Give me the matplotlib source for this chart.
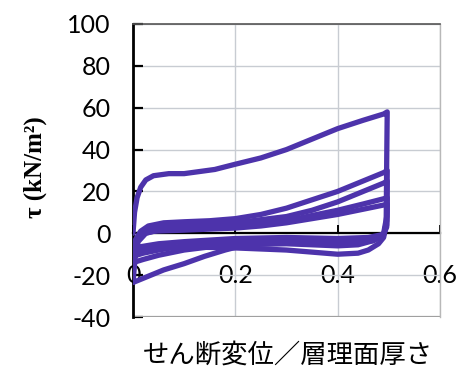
import matplotlib
matplotlib.use("Agg")
import matplotlib.pyplot as plt

# ---- data: hysteresis branches (shear displacement ratio, tau kN/m2) ----
loop1_x = [0.0, 0.003, 0.008, 0.015, 0.025, 0.04, 0.07, 0.10, 0.13, 0.16, 0.20, 0.25, 0.30, 0.35, 0.40, 0.45, 0.49, 0.497,
           0.496, 0.495, 0.49, 0.48, 0.46, 0.44, 0.40, 0.35, 0.30, 0.20, 0.10, 0.05, 0.02, 0.0]
loop1_y = [0.0, 10, 17, 22, 25.5, 27.5, 28.5, 28.5, 29.5, 30.5, 33, 36, 40, 45, 50, 54, 57, 58,
           35, 5, -2, -5, -8, -9.5, -10, -9, -8, -7, -6.5, -6.5, -8, -10]

loop2_x = [0.0, 0.005, 0.015, 0.03, 0.06, 0.10, 0.15, 0.20, 0.25, 0.30, 0.35, 0.40, 0.45, 0.49, 0.497,
           0.496, 0.49, 0.47, 0.44, 0.40, 0.30, 0.20, 0.15, 0.10, 0.05, 0.02, 0.0]
loop2_y = [-10, -3, 1, 3.5, 5, 5.5, 6, 7, 9, 12, 16, 20, 25, 29, 30,
           8, 0, -3.5, -5.5, -6, -5, -5.5, -6.5, -8, -10.5, -12.5, -14]

loop3_x = [0.0, 0.004, 0.012, 0.03, 0.06, 0.10, 0.15, 0.20, 0.25, 0.30, 0.35, 0.40, 0.45, 0.49, 0.497,
           0.496, 0.49, 0.47, 0.44, 0.40, 0.30, 0.22, 0.18, 0.14, 0.10, 0.06, 0.03, 0.0]
loop3_y = [-14, -6, -1, 2, 3, 3.5, 4, 5, 6.5, 8, 11, 15, 20, 24, 25,
           6, -1, -3.5, -4.5, -5, -4.5, -5.5, -8, -11, -14.5, -17.5, -20.5, -23.5]

loop4_x = [0.0, 0.004, 0.01, 0.025, 0.05, 0.10, 0.15, 0.20, 0.25, 0.30, 0.35, 0.40, 0.45, 0.49, 0.497,
           0.496, 0.49, 0.47, 0.43, 0.40, 0.30, 0.20, 0.15, 0.10, 0.05, 0.02, 0.0]
loop4_y = [-23.5, -12, -4, 0, 1.5, 2.5, 3, 3.5, 4.5, 6, 8.5, 11, 14, 16.5, 17,
           4, -0.5, -2.5, -3.5, -4, -3, -3.5, -4.5, -6, -8, -9.5, -11]

loop5_x = [0.0, 0.005, 0.015, 0.04, 0.10, 0.15, 0.20, 0.25, 0.30, 0.35, 0.40, 0.45, 0.49, 0.497,
           0.496, 0.49, 0.46, 0.40, 0.30, 0.20, 0.10, 0.05, 0.0]
loop5_y = [-11, -4, -0.5, 1, 1.5, 2, 2.5, 3.5, 5, 7, 9, 11.5, 13.5, 14,
           3, -0.5, -2, -2.5, -2, -2.5, -4, -5, -7]

loops = [(loop1_x, loop1_y), (loop2_x, loop2_y), (loop3_x, loop3_y),
         (loop4_x, loop4_y), (loop5_x, loop5_y)]

x_ticks = [0, 0.2, 0.4, 0.6]
x_ticklabels = ["0", "0.2", "0.4", "0.6"]
y_ticks = [-40, -20, 0, 20, 40, 60, 80, 100]
y_ticklabels = ["-40", "-20", "0", "20", "40", "60", "80", "100"]
ylabel = "τ (kN/m²)"
xlabel = "せん断変位／層理面厚さ"

line_color = "#4d33ab"

fig = plt.figure(figsize=(4.72, 3.85), dpi=100)
ax = fig.add_axes([0.2818, 0.1766, 0.6502, 0.7611])

ax.set_xlim(0, 0.6)
ax.set_ylim(-40, 100)

ax.grid(True, color="#c8ccd2", linewidth=1.0)
ax.set_axisbelow(True)

for lx, ly in loops:
    ax.plot(lx, ly, color=line_color, linewidth=3.8, solid_capstyle="round",
            solid_joinstyle="round", zorder=3)

# spines
ax.spines["left"].set_color("black")
ax.spines["left"].set_linewidth(2.0)
ax.spines["bottom"].set_position(("data", 0))
ax.spines["bottom"].set_color("black")
ax.spines["bottom"].set_linewidth(1.6)
ax.spines["bottom"].set_zorder(2)
ax.spines["top"].set_color("#555555")
ax.spines["top"].set_linewidth(1.2)
ax.spines["right"].set_color("#b8b8b8")
ax.spines["right"].set_linewidth(1.0)
ax.axhline(-40, color="#a0a0a0", linewidth=1.6, zorder=2)

ax.set_xticks(x_ticks)
ax.set_xticklabels(x_ticklabels)
ax.set_yticks(y_ticks)
ax.set_yticklabels(y_ticklabels)

for lab in ax.get_xticklabels() + ax.get_yticklabels():
    lab.set_fontfamily("Lato")
    lab.set_fontsize(18)

ax.tick_params(axis="y", direction="in", length=7, width=1.6, pad=16, colors="black")
ax.tick_params(axis="x", direction="in", length=6, width=1.4, pad=22, colors="black")

fig.text(0.074, 0.565, ylabel, rotation=90, ha="center", va="center",
         fontsize=18, fontweight="bold", family=["Liberation Serif", "DejaVu Serif"])
fig.text(0.61, 0.078, xlabel, ha="center", va="center", fontsize=19,
         family=["Noto Sans CJK JP", "DejaVu Sans"])

fig.savefig("out.png", dpi=100)
